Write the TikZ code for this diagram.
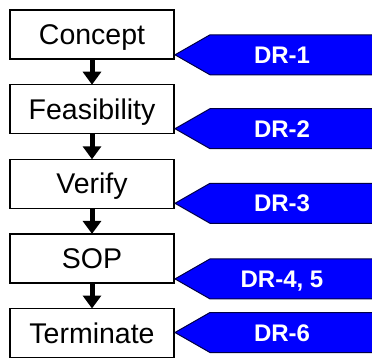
\documentclass[tikz,border=0pt]{standalone}
\usepackage{fontspec}
\setmainfont{Liberation Sans}
\usetikzlibrary{arrows.meta,calc,positioning}
\definecolor{drblue}{RGB}{0,0,255}
\definecolor{drline}{RGB}{0,0,70}
\newcommand{\sgap}{25.6pt}
\tikzset{
    stage/.style = {
        draw, line width=1.5pt, fill=white, rectangle, align=center,
        outer sep=0,
        inner sep=0,
        minimum width=164pt,
        minimum height=49pt,
        text height=20pt, text depth=0pt,
        font=\fontsize{28.5}{30}\selectfont
    },
    flow/.style = {
        line width=5pt, -{Triangle[width=18pt 0 1,length=13pt 0 1]}
    },
    review/.style = {
        draw=drline, line width=1pt, fill=drblue, line join=miter
    },
    revlabel/.style = {
        text=white, inner sep=0,
        text height=17pt, text depth=0pt,
        font=\bfseries\fontsize{24}{26}\selectfont
    }
}

\begin{document}
\begin{tikzpicture}[x=1pt,y=-1pt]
\useasboundingbox (0,0) rectangle (372,358);
\clip (0,0) rectangle (372,358);

\node[stage](Concept) at (92,34.6){Concept};
\node[stage, below=\sgap of Concept](Feasibility){Feasibility};
\node[stage, below=\sgap of Feasibility](Verify){Verify};
\node[stage, below=\sgap of Verify](SOP){SOP};
\node[stage, below=\sgap of SOP](Terminate){Terminate};

\draw[flow] (Concept) -- (Feasibility);
\draw[flow] (Feasibility) -- (Verify);
\draw[flow] (Verify) -- (SOP);
\draw[flow] (SOP) -- (Terminate);

\foreach \stg/\lbl/\dy [count=\i] in {Concept/DR-1/4.3, Feasibility/DR-2/5, Verify/DR-3/5, SOP/{DR-4, 5}/4, Terminate/DR-6/25}{
  \coordinate (T\i) at ($(\stg.south east)+(1,-\dy)$);
  \draw[review] (T\i) -- ++(35,-20) -- ++(220,0) -- ++(0,40) -- ++(-220,0) -- cycle;
  \node[revlabel](DR\i) at ($(T\i)+(107,0)$){\lbl};
}

\end{tikzpicture}
\end{document}
